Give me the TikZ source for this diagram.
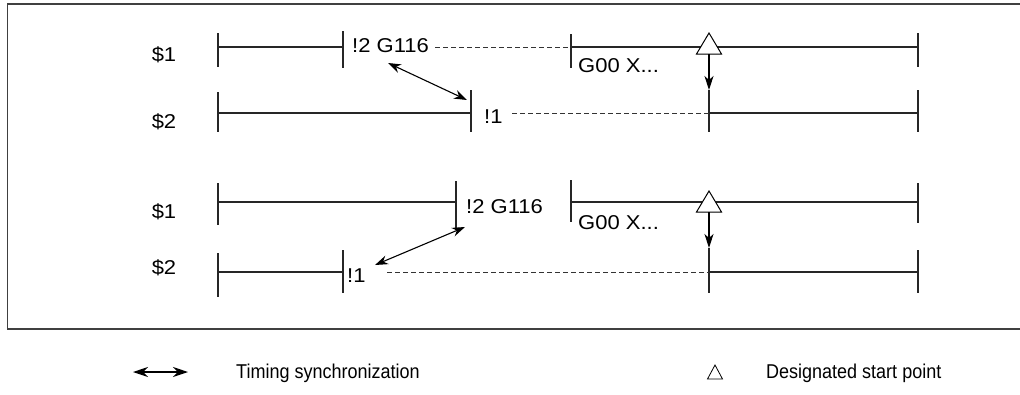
\documentclass[tikz,border=0pt]{standalone}
\usepackage{fontspec}
\setmainfont{Liberation Sans}
\newfontfamily\diagfont[FakeStretch=1.1]{Liberation Sans}
\newfontfamily\legfont[FakeStretch=0.9]{Liberation Sans}
\usetikzlibrary{arrows.meta}
\tikzset{
  lbl/.style={font=\diagfont\fontsize{20}{22}\selectfont, inner sep=0pt, text=black},
  leg/.style={font=\legfont\fontsize{20}{22}\selectfont, inner sep=0pt, anchor=west, text=black},
  tl/.style={line width=1.2pt, draw=black!85},
  dsh/.style={line width=1pt, draw=black!80, dash pattern=on 5pt off 3pt},
  sync/.style={line width=1.1pt, {Stealth[length=13pt,width=9pt]}-{Stealth[length=13pt,width=9pt]}},
  down/.style={line width=1.1pt, -{Stealth[length=14pt,width=9pt,inset=4pt]}},
  tri/.style={line width=1pt, draw=black, fill=white},
  frame/.style={line width=1.6pt, draw=black!75}
}
\begin{document}
\begin{tikzpicture}[x=1pt,y=-1pt]
\useasboundingbox (0,0) rectangle (1020,394);
% frame
\draw[frame] (1021,4) -- (7.5,4) -- (7.5,329) -- (1021,329);

% ===== top section =====
\node[lbl] (a1) at (164,55) {\$1};
\node[lbl] (a2) at (164,122) {\$2};
% $1 row
\coordinate (t1a) at (218,47);
\coordinate (t1b) at (343,47);
\coordinate (t1c) at (571,47);
\coordinate (t1d) at (918,47);
\draw[tl] (218,33) -- (218,67);
\draw[tl] (343,31) -- (343,68);
\draw[tl] (571,34) -- (571,68);
\draw[tl] (918,33) -- (918,67);
\draw[tl] (t1a) -- (t1b);
\node[lbl, anchor=west] (g1) at (352,46) {!2 G116};
\draw[dsh] (g1.east) ++(6,1) coordinate (g1d) -- (t1c);
\draw[tl] (t1c) -- (t1d);
\node[lbl, anchor=west] (x1) at (578,66) {G00 X...};
\draw[tri] (709,33) -- (721.5,54) -- (696.5,54) -- cycle;
\coordinate (tr1) at (709,54);
% $2 row
\coordinate (u1a) at (218,113);
\coordinate (u1b) at (471,113);
\coordinate (u1c) at (709,113);
\coordinate (u1d) at (918,113);
\draw[tl] (218,92) -- (218,132);
\draw[tl] (471,90) -- (471,132);
\draw[tl] (709,90) -- (709,132);
\draw[tl] (918,90) -- (918,132);
\draw[tl] (u1a) -- (u1b);
\node[lbl, anchor=west] (e1) at (484,117) {!1};
\draw[dsh] (512,113) -- (u1c);
\draw[tl] (u1c) -- (u1d);
\coordinate (v1) at (709,90);
\draw[down] (tr1) -- (v1);
\coordinate (s1a) at (388,63);
\coordinate (s1b) at (467,100);
\draw[sync] (s1a) -- (s1b);

% ===== bottom section =====
\node[lbl] (b1) at (164,212) {\$1};
\node[lbl] (b2) at (164,268) {\$2};
% $1 row
\coordinate (t2a) at (218,202);
\coordinate (t2b) at (456,202);
\coordinate (t2c) at (571,202);
\coordinate (t2d) at (918,202);
\draw[tl] (218,183) -- (218,225);
\draw[tl] (456,181) -- (456,230);
\draw[tl] (571,180) -- (571,222);
\draw[tl] (918,183) -- (918,223);
\draw[tl] (t2a) -- (t2b);
\node[lbl, anchor=west] (g2) at (466,207) {!2 G116};
\draw[tl] (t2c) -- (t2d);
\node[lbl, anchor=west] (x2) at (578,223) {G00 X...};
\draw[tri] (709,191) -- (721.5,212) -- (696.5,212) -- cycle;
\coordinate (tr2) at (709,212);
% $2 row
\coordinate (u2a) at (218,272);
\coordinate (u2b) at (343,272);
\coordinate (u2c) at (709,272);
\coordinate (u2d) at (918,272);
\draw[tl] (218,253) -- (218,297);
\draw[tl] (343,250) -- (343,293);
\draw[tl] (709,248) -- (709,293);
\draw[tl] (918,250) -- (918,293);
\draw[tl] (u2a) -- (u2b);
\node[lbl, anchor=west] (e2) at (347,276) {!1};
\draw[dsh] (387,272) -- (u2c);
\draw[tl] (u2c) -- (u2d);
\coordinate (v2) at (709,248);
\draw[down] (tr2) -- (v2);
\coordinate (s2a) at (465,227);
\coordinate (s2b) at (375,265);
\draw[sync] (s2a) -- (s2b);

% ===== legend =====
\coordinate (l1a) at (133,372);
\coordinate (l1b) at (188,372);
\draw[sync, line width=1.2pt, {Stealth[length=15pt,width=10pt]}-{Stealth[length=15pt,width=10pt]}] (l1a) -- (l1b);
\node[leg] (l1t) at (236,373) {Timing synchronization};
\draw[line width=0.8pt] (715,365) -- (722.5,379) -- (707.5,379) -- cycle;
\node[leg] (l2t) at (766,373) {Designated start point};
\end{tikzpicture}
\end{document}
